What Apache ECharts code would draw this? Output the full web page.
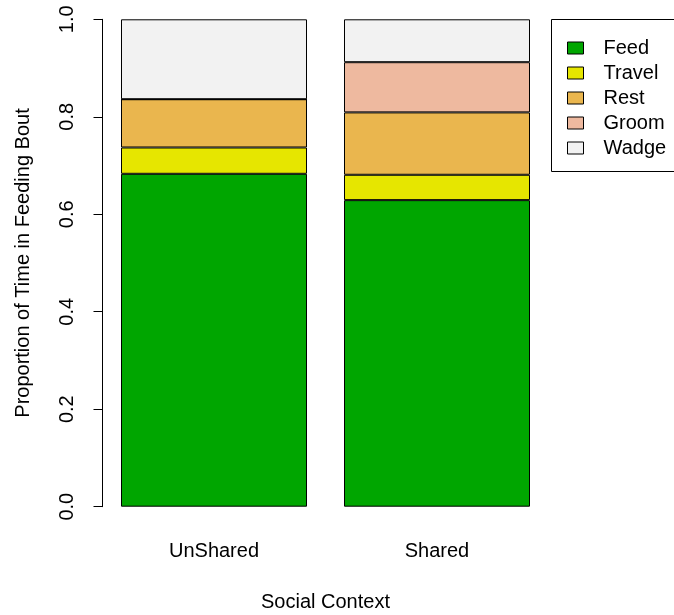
<!DOCTYPE html>
<html>
<head>
<meta charset="utf-8">
<title>Proportion of Time in Feeding Bout</title>
<script src="https://cdn.jsdelivr.net/npm/echarts@6/dist/echarts.min.js"></script>
<style>
  html, body { margin: 0; padding: 0; background: #fff; }
  #chart { width: 674px; height: 615px; }
</style>
</head>
<body>
<div id="chart"></div>
<script>
// Social contexts on the x axis
const contexts = ['UnShared', 'Shared'];

// Activity categories (stacked bottom to top) and their fills
const activities = ['Feed', 'Travel', 'Rest', 'Groom', 'Wadge'];
const activityColors = ['#00A600', '#E6E600', '#EAB64E', '#EEB99F', '#F2F2F2'];

// Proportion of time per activity, one value per context
const feed   = [0.683, 0.629];
const travel = [0.054, 0.052];
const rest   = [0.099, 0.128];
const groom  = [0.000, 0.103];
const wadge  = [0.164, 0.088];

// Y axis tick values
const yTicks = [0, 0.2, 0.4, 0.6, 0.8, 1.0];

const seriesValues = [feed, travel, rest, groom, wadge];
const FONT = "'Liberation Sans', Arial, Helvetica, sans-serif";
const FS = 20;

const chart = echarts.init(document.getElementById('chart'), null, { renderer: 'canvas' });

const series = activities.map((name, i) => ({
  name: name,
  type: 'bar',
  stack: 'total',
  barWidth: 186,
  data: seriesValues[i],
  itemStyle: {
    color: activityColors[i],
    borderColor: '#000',
    borderWidth: 1
  },
  emphasis: { disabled: true },
  animation: false
}));

chart.setOption({
  animation: false,
  backgroundColor: '#fff',
  textStyle: { fontFamily: FONT },
  grid: {
    left: 102.5, top: 19.3, width: 446, bottom: 108.3,
    containLabel: false, outerBoundsMode: 'none'
  },
  xAxis: {
    type: 'category',
    data: contexts,
    axisLine: { show: false },
    axisTick: { show: false },
    axisLabel: {
      color: '#000', fontSize: FS, fontFamily: FONT,
      lineHeight: 20, margin: 35
    },
    name: 'Social Context',
    nameLocation: 'middle',
    nameGap: 86,
    nameTextStyle: { color: '#000', fontSize: FS, fontFamily: FONT, lineHeight: 20 }
  },
  yAxis: {
    type: 'value',
    min: yTicks[0],
    max: yTicks[yTicks.length - 1],
    interval: yTicks[1] - yTicks[0],
    splitLine: { show: false },
    axisLine: { show: true, lineStyle: { color: '#000', width: 1 } },
    axisTick: { show: true, length: 9, lineStyle: { color: '#000', width: 1 } },
    axisLabel: {
      color: '#000', fontSize: FS, fontFamily: FONT,
      rotate: 90, lineHeight: 20, margin: 25,
      formatter: v => v.toFixed(1)
    },
    name: 'Proportion of Time in Feeding Bout',
    nameLocation: 'middle',
    nameRotate: 90,
    nameGap: 69,
    nameTextStyle: { color: '#000', fontSize: FS, fontFamily: FONT, lineHeight: 20 }
  },
  legend: {
    orient: 'vertical',
    left: 562,
    top: 33,
    itemWidth: 16,
    itemHeight: 12,
    itemGap: 5,
    icon: 'rect',
    selectedMode: false,
    data: activities,
    itemStyle: { borderColor: '#000', borderWidth: 1 },
    textStyle: {
      color: '#000', fontSize: FS, fontFamily: FONT,
      lineHeight: 20, padding: [0, 0, 0, 15]
    }
  },
  graphic: [{
    type: 'rect',
    left: 549,
    top: 17,
    shape: { width: 140, height: 152 },
    style: { fill: null, stroke: '#000', lineWidth: 1 },
    silent: true,
    z: 0
  }],
  series: series
});
</script>
</body>
</html>
